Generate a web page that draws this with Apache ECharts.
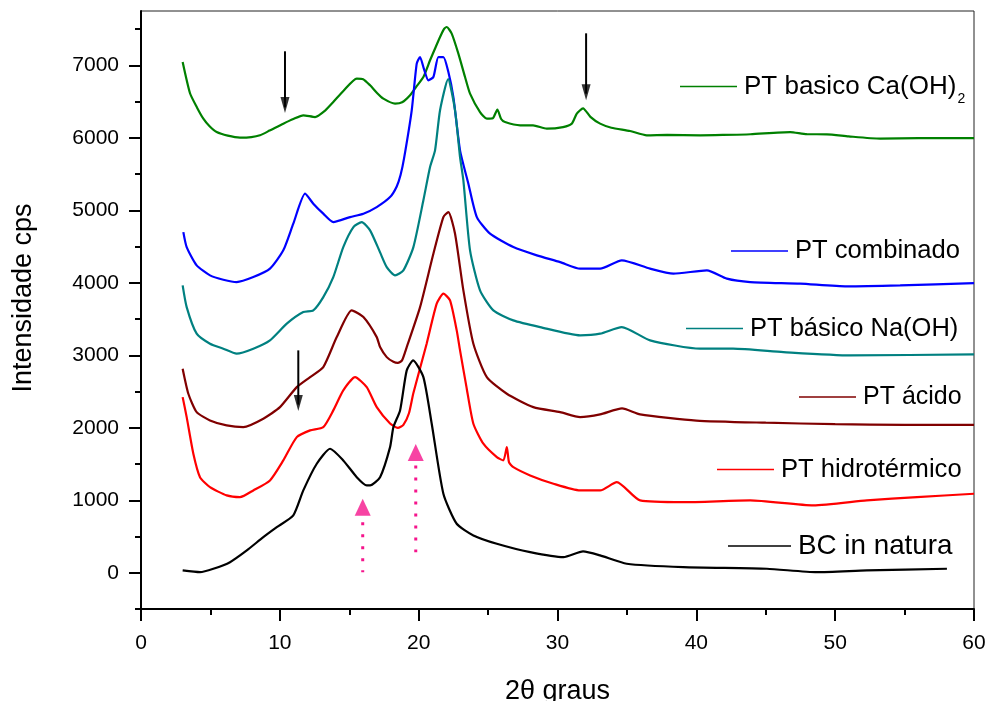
<!DOCTYPE html>
<html><head><meta charset="utf-8">
<script src="https://cdn.jsdelivr.net/npm/echarts@6/dist/echarts.min.js"></script>
<style>html,body{margin:0;padding:0;background:#fff}#c{width:988px;height:701px}</style>
</head><body><div id="c"></div>
<script>
const FONT = 'Liberation Sans, Arial, sans-serif';
const yLabelTicks = [0, 1000, 2000, 3000, 4000, 5000, 6000, 7000];
const yMinorTicks = [-500, 500, 1500, 2500, 3500, 4500, 5500, 6500, 7500];
const seriesNames = ['PT basico Ca(OH)2', 'PT combinado', 'PT básico Na(OH)', 'PT ácido', 'PT hidrotérmico', 'BC in natura'];
const seriesColors = ['#008000', '#0000ff', '#008080', '#800000', '#ff0000', '#000000'];

const ptBasicoCa = [[3.00,7046],[3.53,6615],[4.03,6420],[4.49,6265],[4.94,6160],[5.45,6080],[6.25,6030],[7.13,6003],[7.95,6010],[8.57,6035],[9.26,6100],[10.25,6196],[10.97,6260],[11.69,6311],[12.54,6287],[13.28,6380],[13.85,6494],[14.59,6650],[15.54,6817],[16.0,6810],[16.5,6725],[17.0,6620],[17.46,6541],[18.3,6472],[18.81,6490],[19.38,6587],[19.81,6700],[20.34,6839],[20.82,7070],[21.22,7250],[21.54,7391],[21.82,7500],[22.02,7529],[22.38,7438],[22.86,7162],[23.34,6839],[23.7,6610],[24.42,6356],[24.91,6265],[25.34,6270],[25.67,6390],[25.94,6260],[26.22,6218],[27.31,6173],[28.24,6173],[29.23,6127],[30.4,6149],[31.03,6196],[31.39,6334],[31.84,6407],[32.37,6290],[33.07,6196],[33.88,6140],[35.23,6094],[36.43,6035],[37.9,6040],[40.27,6035],[41.9,6040],[43.9,6050],[46.76,6080],[47.95,6050],[49.4,6049],[50.97,6020],[53.24,5989],[56.0,5995],[60.0,5997]];
const ptCombinado = [[3.05,4700],[3.29,4493],[4.01,4241],[4.97,4103],[5.93,4043],[6.89,4010],[8.09,4079],[9.29,4195],[10.25,4448],[10.97,4816],[11.82,5230],[12.41,5092],[13.13,4954],[13.85,4838],[15.06,4907],[16.02,4954],[16.98,5045],[17.94,5183],[18.42,5330],[18.7,5490],[18.95,5720],[19.5,6380],[19.86,7024],[20.1,7115],[20.34,6977],[20.7,6794],[21.06,6839],[21.42,7115],[21.78,7115],[22.14,6908],[22.5,6563],[22.98,5828],[23.58,5368],[24.19,4907],[25.14,4678],[26.82,4493],[28.51,4379],[30.19,4286],[31.63,4195],[33.07,4195],[34.63,4310],[36.67,4195],[38.35,4126],[40.76,4172],[42.2,4057],[43.88,4010],[47.48,3988],[50.84,3951],[54.68,3965],[60.0,3997]];
const ptBasicoNa = [[3.00,3965],[3.29,3665],[4.01,3298],[4.97,3160],[5.93,3091],[6.89,3022],[8.09,3091],[9.29,3206],[10.5,3436],[11.69,3596],[12.41,3620],[13.13,3803],[13.85,4079],[14.57,4493],[15.3,4769],[15.9,4838],[16.5,4724],[17.22,4420],[17.7,4217],[18.3,4103],[18.9,4172],[19.62,4493],[20.34,5138],[20.82,5597],[21.18,5828],[21.54,6380],[22.12,6810],[22.62,6380],[22.98,5735],[23.22,5414],[23.7,4448],[24.42,3896],[25.38,3620],[26.82,3482],[28.75,3389],[31.63,3275],[33.07,3298],[34.63,3389],[36.67,3206],[40.27,3091],[42.65,3091],[46.27,3044],[51.08,2999],[60.0,3013]];
const ptAcido = [[3.00,2815],[3.41,2470],[4.01,2216],[4.97,2102],[6.17,2033],[7.37,2009],[8.81,2125],[10.01,2285],[11.22,2561],[12.18,2699],[13.13,2837],[14.1,3251],[15.18,3620],[16.02,3527],[16.98,3251],[17.22,3113],[17.7,2975],[18.18,2910],[18.5,2895],[18.8,2930],[19.14,3113],[20.1,3665],[21.06,4402],[21.78,4907],[22.14,4976],[22.62,4678],[23.22,3896],[23.94,3160],[24.91,2699],[26.35,2470],[28.26,2285],[30.19,2216],[31.63,2147],[33.07,2185],[34.65,2267],[35.95,2185],[40.0,2100],[45.0,2070],[50.0,2050],[55.0,2040],[60.0,2040]];
const ptHidrotermico = [[3.00,2423],[3.29,2147],[3.77,1642],[4.25,1319],[4.97,1181],[6.17,1067],[7.13,1043],[8.09,1136],[9.29,1274],[10.25,1550],[11.22,1871],[12.18,1964],[13.13,2009],[13.85,2240],[14.57,2516],[15.42,2699],[16.26,2561],[16.98,2285],[17.94,2060],[18.5,2000],[18.9,2040],[19.3,2200],[19.62,2480],[20.58,3164],[21.3,3712],[21.78,3850],[22.26,3758],[22.74,3344],[22.98,3068],[23.46,2543],[23.94,2056],[24.66,1780],[25.63,1595],[26.1,1550],[26.35,1733],[26.51,1522],[26.82,1457],[28.03,1343],[29.71,1228],[31.63,1136],[33.07,1136],[34.27,1250],[35.95,998],[39.07,974],[43.88,998],[48.44,929],[52.28,998],[55.89,1043],[60.0,1090]];
const bcInNatura = [[3.00,32],[4.25,8],[5.21,55],[6.41,146],[7.62,308],[8.81,491],[9.78,629],[10.97,791],[11.69,1136],[12.66,1504],[13.62,1711],[14.57,1550],[15.54,1319],[16.26,1205],[16.5,1205],[17.22,1319],[17.94,1733],[18.18,2009],[18.66,2240],[19.14,2792],[19.6,2930],[20.34,2699],[20.94,2056],[21.78,1090],[22.74,676],[23.94,515],[25.63,400],[28.03,284],[30.43,215],[31.84,294],[33.07,239],[34.99,124],[39.07,77],[45.08,55],[48.68,8],[52.28,32],[58.05,55]];
const seriesData = [ptBasicoCa, ptCombinado, ptBasicoNa, ptAcido, ptHidrotermico, bcInNatura];

// annotation marks (data coordinates)
const arrowShafts = [[[10.37,7194],[10.37,6420]], [[11.33,3068],[11.33,2320]], [[32.06,7442],[32.06,6610]]];
const arrowTips = [[10.37,6342],[11.33,2230],[32.06,6518]];
const pinkTriangles = [[15.97,905],[19.79,1660]];
const pinkDotted = [[[15.97,698],[15.97,8]], [[19.79,1481],[19.79,284]]];

const legendPos = [[680,84.5],[731,251],[686,328.5],[799,397],[717,469.5],[728,546]];
const legendWidths = [57,57,57,57,57,63];
const legendFont = [26,25.6,25.5,25,25.6,27.8];

const chart = echarts.init(document.getElementById('c'), null, {renderer:'canvas'});
const series = [];
seriesNames.forEach((n,i)=>{
  series.push({name:n, type:'line', data:seriesData[i], showSymbol:false, symbol:'none', smooth:0.2,
    lineStyle:{color:seriesColors[i], width:2.2}, itemStyle:{color:seriesColors[i]}, z:2+i});
});
arrowShafts.forEach(s=>series.push({type:'line', data:s, showSymbol:false, symbol:'none', lineStyle:{color:'#000', width:2}, z:10, silent:true}));
series.push({type:'scatter', data:arrowTips, symbol:'path://M0,0L10,0L5,18Z', symbolSize:[9,16], symbolOffset:[0,'-50%'], itemStyle:{color:'#000'}, z:11, silent:true});
pinkDotted.forEach(s=>series.push({type:'line', data:s, showSymbol:false, symbol:'none', lineStyle:{color:'#f5148c', width:3, type:[3,9]}, z:10, silent:true}));
series.push({type:'scatter', data:pinkTriangles, symbol:'triangle', symbolSize:[16,17], itemStyle:{color:'#f5148c'}, z:11, silent:true});

const legends = seriesNames.map((n,i)=>{
  const lg = {data:[n], left:legendPos[i][0], top:legendPos[i][1]-15, icon:'rect', itemWidth:legendWidths[i], itemHeight:1.5,
    padding:0, selectedMode:false, textStyle:{fontSize:legendFont[i], color:'#000', fontFamily:FONT, lineHeight:30, padding:[0,0,0,2]}};
  if (i===0) {
    lg.top = legendPos[i][1]-18;
    lg.formatter = ()=>'{a|PT basico Ca(OH)}{s|2}';
    lg.textStyle.rich = {a:{fontSize:26, lineHeight:40, fontFamily:FONT, color:'#000'}, s:{fontSize:14, lineHeight:2, verticalAlign:'bottom', fontFamily:FONT, color:'#000', padding:[9,0,0,1]}};
  }
  return lg;
});

chart.setOption({
  animation:false,
  backgroundColor:'#fff',
  grid:{left:141, right:14, top:11, bottom:92, containLabel:false, outerBoundsMode:'none', show:true, borderColor:'#222', borderWidth:1, backgroundColor:'transparent'},
  legend:legends,
  xAxis:{type:'value', min:0, max:60, interval:10,
    name:'2θ graus', nameLocation:'middle', nameGap:69, nameTextStyle:{fontSize:27, color:'#000', fontFamily:FONT},
    axisLine:{show:true, onZero:false, lineStyle:{color:'#000', width:2}},
    axisTick:{show:true, inside:false, length:12, lineStyle:{color:'#000', width:2}},
    minorTick:{show:true, splitNumber:2, length:6, lineStyle:{color:'#000', width:2}},
    axisLabel:{fontSize:21, color:'#000', fontFamily:FONT, margin:24},
    splitLine:{show:false}, minorSplitLine:{show:false}},
  yAxis:[
    {type:'value', min:-500, max:7750,
      name:'Intensidade cps', nameLocation:'middle', nameGap:104, nameTextStyle:{fontSize:27, color:'#000', fontFamily:FONT, padding:[0,0,0,24]},
      axisLine:{show:true, onZero:false, lineStyle:{color:'#000', width:2}},
      axisTick:{show:true, inside:false, length:12, customValues:yLabelTicks, lineStyle:{color:'#000', width:2}},
      axisLabel:{fontSize:21, color:'#000', fontFamily:FONT, margin:22, customValues:yLabelTicks, formatter:v=>String(v)},
      splitLine:{show:false}},
    {type:'value', min:-500, max:7750, position:'left',
      axisLine:{show:false}, axisLabel:{show:false}, splitLine:{show:false},
      axisTick:{show:true, inside:false, length:6, customValues:yMinorTicks, lineStyle:{color:'#000', width:2}}}
  ],
  series:series
});
</script></body></html>
